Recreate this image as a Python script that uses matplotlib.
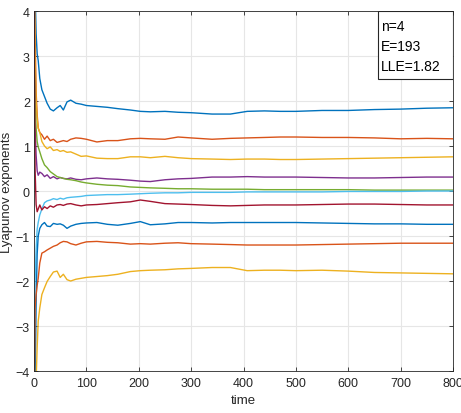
import matplotlib
matplotlib.use("Agg")
import matplotlib.pyplot as plt
from matplotlib.patches import Rectangle

plt.rcParams['font.family'] = ['Liberation Sans', 'DejaVu Sans']

# time samples
time = [0, 2, 4, 6, 8, 11, 15, 20, 25, 31, 37, 44, 50, 56, 63, 70, 80, 90, 100,
        120, 140, 160, 184, 203, 222, 250, 275, 300, 340, 375, 407, 440, 470,
        500, 550, 600, 650, 700, 750, 800]

le1 = [6.0, 4.5, 3.5, 3.05, 2.9, 2.5, 2.25, 2.1, 1.95, 1.82, 1.78, 1.85, 1.9, 1.8,
       1.98, 2.02, 1.95, 1.93, 1.9, 1.88, 1.86, 1.83, 1.8, 1.77, 1.76, 1.77, 1.75,
       1.74, 1.71, 1.71, 1.77, 1.78, 1.77, 1.77, 1.79, 1.79, 1.81, 1.82, 1.84, 1.85]
le2 = [5.0, 3.5, 2.2, 1.7, 1.4, 1.3, 1.25, 1.15, 1.22, 1.12, 1.15, 1.08, 1.1, 1.12,
       1.1, 1.15, 1.18, 1.17, 1.15, 1.09, 1.12, 1.12, 1.16, 1.17, 1.16, 1.15, 1.2,
       1.18, 1.15, 1.17, 1.18, 1.19, 1.2, 1.2, 1.19, 1.19, 1.18, 1.16, 1.17, 1.16]
le3 = [5.0, 3.0, 2.0, 1.6, 1.4, 1.3, 1.1, 1.0, 0.94, 0.98, 0.9, 0.92, 0.88, 0.9,
       0.86, 0.87, 0.82, 0.77, 0.78, 0.73, 0.72, 0.72, 0.76, 0.76, 0.74, 0.77, 0.74,
       0.72, 0.71, 0.7, 0.71, 0.71, 0.7, 0.7, 0.71, 0.72, 0.73, 0.74, 0.75, 0.76]
le4 = [3.0, 1.5, 0.8, 0.45, 0.35, 0.42, 0.39, 0.32, 0.36, 0.28, 0.32, 0.27, 0.3, 0.28,
       0.27, 0.29, 0.26, 0.25, 0.27, 0.29, 0.27, 0.26, 0.24, 0.22, 0.21, 0.25, 0.27,
       0.28, 0.31, 0.31, 0.32, 0.31, 0.31, 0.31, 0.3, 0.29, 0.29, 0.3, 0.31, 0.31]
le5 = [3.0, 2.0, 1.4, 1.1, 0.98, 0.87, 0.72, 0.58, 0.52, 0.43, 0.38, 0.32, 0.3, 0.28,
       0.26, 0.25, 0.23, 0.2, 0.18, 0.15, 0.13, 0.12, 0.09, 0.08, 0.07, 0.06, 0.05,
       0.05, 0.04, 0.04, 0.04, 0.03, 0.03, 0.03, 0.03, 0.03, 0.02, 0.02, 0.02, 0.02]
le6 = [-3.0, -2.0, -1.3, -0.85, -0.7, -0.53, -0.4, -0.26, -0.22, -0.2, -0.17, -0.19,
       -0.16, -0.18, -0.15, -0.14, -0.13, -0.12, -0.1, -0.09, -0.08, -0.08, -0.07,
       -0.06, -0.05, -0.04, -0.04, -0.03, -0.03, -0.03, -0.02, -0.02, -0.02, -0.02,
       -0.02, -0.01, -0.01, -0.01, 0.0, 0.0]
le7 = [5.0, 0.5, -0.3, -0.46, -0.4, -0.31, -0.42, -0.35, -0.39, -0.33, -0.36, -0.31,
       -0.3, -0.32, -0.29, -0.28, -0.31, -0.33, -0.31, -0.3, -0.28, -0.26, -0.24,
       -0.2, -0.23, -0.28, -0.29, -0.3, -0.32, -0.33, -0.32, -0.31, -0.31, -0.31,
       -0.3, -0.29, -0.29, -0.3, -0.31, -0.31]
le8 = [-6.0, -4.5, -2.5, -1.4, -1.0, -0.83, -0.75, -0.7, -0.78, -0.79, -0.72, -0.74,
       -0.73, -0.76, -0.83, -0.78, -0.74, -0.72, -0.71, -0.7, -0.74, -0.76, -0.72,
       -0.68, -0.75, -0.73, -0.7, -0.7, -0.71, -0.7, -0.7, -0.7, -0.7, -0.7, -0.71,
       -0.72, -0.73, -0.73, -0.74, -0.74]
le9 = [-5.0, -2.6, -2.3, -2.1, -1.94, -1.6, -1.38, -1.35, -1.31, -1.27, -1.23, -1.2,
       -1.15, -1.12, -1.13, -1.17, -1.2, -1.16, -1.13, -1.12, -1.14, -1.15, -1.18,
       -1.17, -1.18, -1.16, -1.15, -1.17, -1.18, -1.19, -1.2, -1.2, -1.2, -1.2,
       -1.19, -1.18, -1.17, -1.16, -1.16, -1.16]
le10 = [-6.0, -5.0, -4.2, -3.48, -2.89, -2.6, -2.3, -2.15, -2.01, -1.9, -1.8, -1.78,
        -1.92, -1.85, -1.97, -2.0, -1.96, -1.94, -1.92, -1.9, -1.88, -1.85, -1.79,
        -1.77, -1.76, -1.75, -1.73, -1.72, -1.7, -1.7, -1.77, -1.76, -1.76, -1.77,
        -1.76, -1.78, -1.81, -1.82, -1.83, -1.84]

series = [le1, le2, le3, le4, le5, le6, le7, le8, le9, le10]
colors = ['#0072BD', '#D95319', '#EDB120', '#7E2F8E', '#77AC30', '#4DBEEE',
          '#A2142F', '#0072BD', '#D95319', '#EDB120']

info_lines = ['n=4', 'E=193', 'LLE=1.82']

fig = plt.figure(figsize=(4.61, 4.14), dpi=100)
ax = fig.add_axes([0.0738, 0.1014, 0.9088, 0.8696])

for vals, c in zip(series, colors):
    ax.plot(time, vals, color=c, lw=1.0)

ax.set_xlim(0, 800)
ax.set_ylim(-4, 4)
ax.set_xticks(range(0, 801, 100))
ax.set_yticks(range(-4, 5))
ax.grid(True, color='#e6e6e6', lw=0.8)
ax.set_axisbelow(True)
ax.tick_params(direction='in', top=True, right=True, length=3, width=0.6,
               colors='#262626', labelsize=9, pad=4)
ax.tick_params(axis='y', pad=3)
for s in ax.spines.values():
    s.set_color('#262626')
    s.set_linewidth(0.6)
ax.set_xlabel('time', fontsize=9.5, color='#262626', labelpad=4)
ax.set_ylabel('Lyapunov exponents', fontsize=9.5, color='#262626')
ax.yaxis.set_label_coords(-0.05, 0.5)

# info box in upper right
ax.add_patch(Rectangle((0.821, 0.811), 0.179, 0.189, transform=ax.transAxes,
                       facecolor='white', edgecolor='#262626', lw=0.8, zorder=5))
for i, s in enumerate(info_lines):
    ax.text(0.828, 0.958 - i * 0.0555, s, transform=ax.transAxes, fontsize=10,
            va='center', ha='left', color='#000000', zorder=6)

fig.savefig('out.png', dpi=100)
